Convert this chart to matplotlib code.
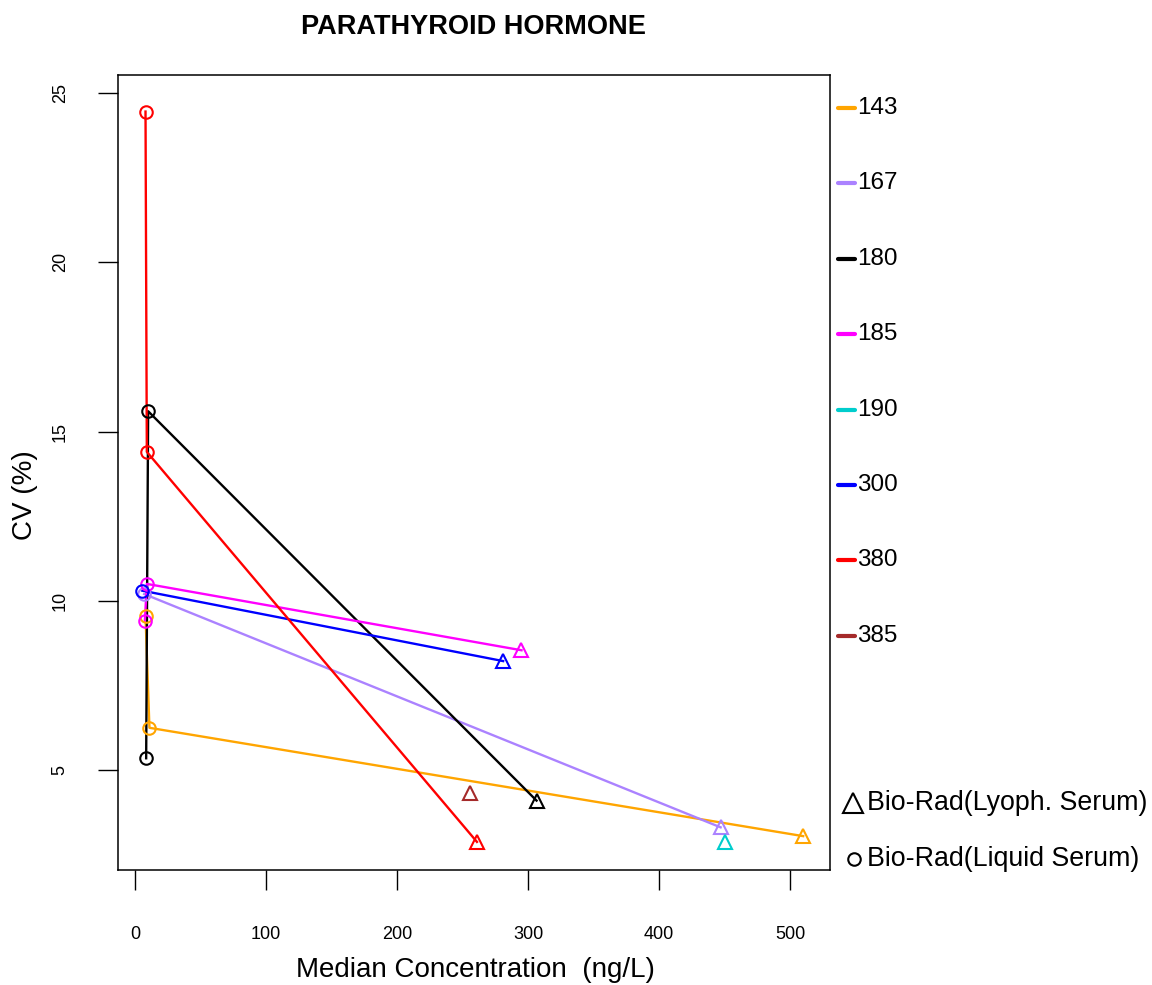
import matplotlib
matplotlib.use("Agg")
import matplotlib.pyplot as plt
from matplotlib.lines import Line2D

plt.rcParams['font.family'] = ['Liberation Sans', 'DejaVu Sans']

labs = ["143", "167", "180", "185", "190", "300", "380", "385"]
colors = ["#FFA500", "#AB82FF", "#000000", "#FF00FF", "#00CDCD", "#0000FF", "#FF0000", "#A52A2A"]

# Bio-Rad liquid serum (circles) per lab
liquid_x = [[8, 11], [7], [8.5, 10], [7.5, 9], [], [5.5], [8, 9], []]
liquid_y = [[9.55, 6.25], [10.2], [5.35, 15.6], [9.4, 10.5], [], [10.3], [24.45, 14.4], []]
# Bio-Rad lyophilised serum (triangles) per lab
lyoph_x = [510, 447, 306.5, 295, 450, 281, 261, 256]
lyoph_y = [3.05, 3.31, 4.1, 8.54, 2.88, 8.22, 2.88, 4.33]

xticks = [0, 100, 200, 300, 400, 500]
yticks = [5, 10, 15, 20, 25]

W, H = 1152, 985
fig = plt.figure(figsize=(W / 100, H / 100), dpi=100)
ax = fig.add_axes([118 / W, 1 - 870 / H, (830 - 118) / W, (870 - 75) / H])

for i in range(len(labs)):
    xs = liquid_x[i] + [lyoph_x[i]]
    ys = liquid_y[i] + [lyoph_y[i]]
    ax.plot(xs, ys, color=colors[i], lw=1.7, zorder=2)
    if liquid_x[i]:
        ax.plot(liquid_x[i], liquid_y[i], 'o', mfc='none', mec=colors[i],
                ms=9, mew=1.5, zorder=3)
    ax.plot([lyoph_x[i]], [lyoph_y[i]], '^', mfc='none', mec=colors[i],
            ms=10.5, mew=1.5, zorder=3)

ax.set_xlim(-13, 530.5)
ax.set_ylim(2.05, 25.53)
ax.set_xticks(xticks)
ax.set_yticks(yticks)
ax.tick_params(axis='x', length=14.5, width=1, pad=26, labelsize=13)
ax.tick_params(axis='y', length=14.5, width=1, pad=21, labelsize=13, labelrotation=90)
for lab in ax.get_yticklabels():
    lab.set_va('center')
for s in ax.spines.values():
    s.set_linewidth(1.1)

fig.text(473 / W, 1 - 27 / H, "PARATHYROID HORMONE", ha='center', va='center',
         fontsize=19.5, fontweight='bold')
fig.text(475 / W, 1 - 970 / H, "Median Concentration  (ng/L)", ha='center', va='center',
         fontsize=20)
fig.text(25 / W, 1 - 495 / H, "CV (%)", ha='center', va='center', rotation=90,
         fontsize=20)

# Legend outside right
y0, dy = 108, 75.4
for i, lab in enumerate(labs):
    yy = 1 - (y0 + i * dy) / H
    fig.add_artist(Line2D([838 / W, 855 / W], [yy, yy], color=colors[i], lw=3,
                          solid_capstyle='round', transform=fig.transFigure))
    fig.text(857 / W, yy, lab, ha='left', va='center', fontsize=17.5)

yl = 1 - 803 / H
fig.add_artist(Line2D([853 / W], [yl], marker='^', mfc='none', mec='black', ms=14,
                      mew=1.5, transform=fig.transFigure))
fig.text(867 / W, yl, "Bio-Rad(Lyoph. Serum)", ha='left', va='center', fontsize=19.3)
yc = 1 - 859 / H
fig.add_artist(Line2D([854 / W], [yc], marker='o', mfc='none', mec='black', ms=9,
                      mew=1.5, transform=fig.transFigure))
fig.text(867 / W, yc, "Bio-Rad(Liquid Serum)", ha='left', va='center', fontsize=19.3)

fig.savefig("out.png", dpi=100)
